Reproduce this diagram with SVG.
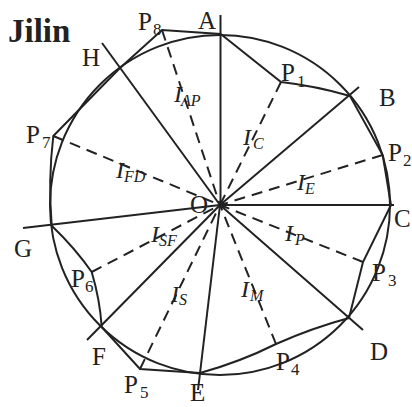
<svg xmlns="http://www.w3.org/2000/svg" width="412" height="407" viewBox="0 0 412 407">
<style>
.ln{fill:none;stroke:#222;stroke-width:2;stroke-linecap:butt}
.ds{fill:none;stroke:#222;stroke-width:2;stroke-dasharray:11,7}
.lb{font-family:"Liberation Serif","Times New Roman",serif;font-size:25px;fill:#222}
.sb{font-family:"Liberation Serif","Times New Roman",serif;font-size:17px;fill:#222}
.it{font-family:"Liberation Serif","Times New Roman",serif;font-size:24px;font-style:italic;fill:#222}
.is{font-family:"Liberation Serif","Times New Roman",serif;font-size:16px;font-style:italic;fill:#222}
</style>
<rect width="412" height="407" fill="#fff"/>
<text x="8" y="42" font-family="Liberation Serif,serif" font-weight="bold" font-size="33" fill="#222">Jilin</text>
<g id="circle"><circle class="ln" cx="220" cy="205" r="170"/></g>
<g id="boundary">
<path class="ln" d="M220.7,34 L281,82 Q316,86 350,96 L382.7,155 L391,205 L363,262 L349,318 Q312,328 276,344 Q240,362 200,373 L140,369 L101.7,327 Q100,300 91.7,272 Q75,248 51.7,225.7 Q48,180 53.3,136 L120,68 L162,30 Z"/>
</g>
<g id="connectors">
<path class="ln" d="M220.5,15 L220.5,205"/>
<path class="ln" d="M220,205 L359,87"/>
<path class="ln" d="M220,205 L394,205" stroke-width="2.5"/>
<path class="ln" d="M220,205 L363,330"/>
<path class="ln" d="M220,205 L198,390"/>
<path class="ln" d="M220,205 L87,340"/>
<path class="ln" d="M220,205 L23,228"/>
<path class="ln" d="M220,205 L102,43"/>
<path class="ds" d="M281,82 L220,205"/>
<path class="ds" d="M382.7,155 L220,205"/>
<path class="ds" d="M363,262 L220,205"/>
<path class="ds" d="M276,344 L220,205"/>
<path class="ds" d="M140,369 L220,205"/>
<path class="ds" d="M91.7,272 L220,205"/>
<path class="ds" d="M53.3,136 L220,205"/>
<path class="ds" d="M162,30 L220,205"/>
</g>
<g id="A"><text class="lb" x="198" y="29">A</text></g>
<g id="B"><text class="lb" x="379" y="106">B</text></g>
<g id="C"><text class="lb" x="394" y="227">C</text></g>
<g id="D"><text class="lb" x="370" y="360">D</text></g>
<g id="E"><text class="lb" x="190" y="401">E</text></g>
<g id="F"><text class="lb" x="92" y="365">F</text></g>
<g id="G"><text class="lb" x="14" y="257">G</text></g>
<g id="H"><text class="lb" x="82" y="66">H</text></g>
<g id="O"><text class="lb" x="190" y="213">O</text></g>
<g id="P1"><text class="lb" x="281" y="81">P</text><text class="sb" x="297" y="87">1</text></g>
<g id="P2"><text class="lb" x="388" y="161">P</text><text class="sb" x="403" y="166">2</text></g>
<g id="P3"><text class="lb" x="372" y="281">P</text><text class="sb" x="388" y="286">3</text></g>
<g id="P4"><text class="lb" x="276" y="370">P</text><text class="sb" x="291" y="375">4</text></g>
<g id="P5"><text class="lb" x="124" y="393">P</text><text class="sb" x="140" y="398">5</text></g>
<g id="P6"><text class="lb" x="71" y="287">P</text><text class="sb" x="85" y="292">6</text></g>
<g id="P7"><text class="lb" x="26" y="143">P</text><text class="sb" x="42" y="148">7</text></g>
<g id="P8"><text class="lb" x="138" y="30">P</text><text class="sb" x="153" y="35">8</text></g>
<g id="IAP"><text class="it" x="174" y="102">I</text><text class="is" x="181" y="106">AP</text></g>
<g id="IC"><text class="it" x="243" y="145">I</text><text class="is" x="253" y="149">C</text></g>
<g id="IE"><text class="it" x="297" y="190">I</text><text class="is" x="305" y="194">E</text></g>
<g id="IFD"><text class="it" x="116" y="178">I</text><text class="is" x="124" y="182">FD</text></g>
<g id="IP"><text class="it" x="285" y="241">I</text><text class="is" x="295" y="245">P</text></g>
<g id="ISF"><text class="it" x="151" y="242">I</text><text class="is" x="159" y="246">SF</text></g>
<g id="IM"><text class="it" x="241" y="297">I</text><text class="is" x="250" y="301">M</text></g>
<g id="IS"><text class="it" x="171" y="302">I</text><text class="is" x="179" y="305">S</text></g>
</svg>
